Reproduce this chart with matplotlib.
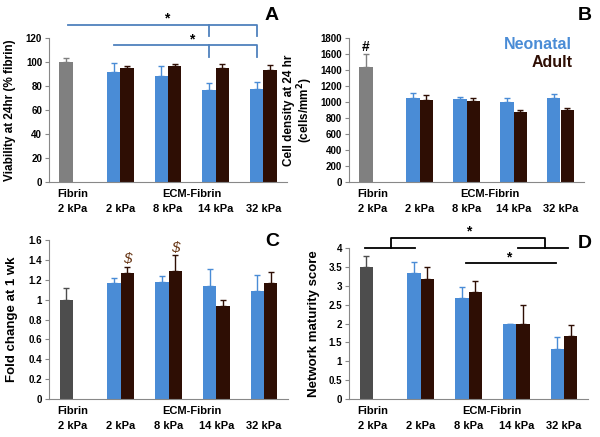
import numpy as np
import matplotlib
matplotlib.use("Agg")
import matplotlib.pyplot as plt
from matplotlib.ticker import FuncFormatter

plt.rcParams['font.family'] = ['Liberation Sans', 'DejaVu Sans']
plt.rcParams['font.weight'] = 'bold'

kpa_labels = ['2 kPa', '2 kPa', '8 kPa', '14 kPa', '32 kPa']

# A: viability at 24 hr (% fibrin); first neonatal value is the fibrin control
viab_neo = [100, 91.5, 88, 77, 77.5]
viab_neo_err = [3.4, 7.7, 8.3, 5.3, 6.2]
viab_adult = [95, 96.3, 95, 93]
viab_adult_err = [1.3, 2.3, 3.6, 4.5]

# B: cell density at 24 hr
dens_neo = [1442, 1054, 1033, 1000, 1046]
dens_neo_err = [154, 54, 25, 50, 58]
dens_adult = [1025, 1012, 871, 896]
dens_adult_err = [63, 34, 29, 25]

# C: fold change at 1 wk
fold_neo = [1.0, 1.165, 1.176, 1.14, 1.09]
fold_neo_err = [0.12, 0.055, 0.064, 0.17, 0.16]
fold_adult = [1.27, 1.29, 0.94, 1.17]
fold_adult_err = [0.06, 0.16, 0.06, 0.11]

# D: network maturity score
net_neo = [3.5, 3.33, 2.67, 2.0, 1.33]
net_neo_err = [0.29, 0.3, 0.3, 0.0, 0.3]
net_adult = [3.17, 2.83, 2.0, 1.67]
net_adult_err = [0.32, 0.3, 0.5, 0.3]

BLUE = '#4A8CD6'
BROWN = '#2E0E04'
SPINE = '#888888'
W = 0.28


def panel(ax, neo, neo_err, adult, adult_err, fib_color, ymax, step):
    x = np.arange(len(kpa_labels))
    cols = [fib_color] + [BLUE] * (len(neo) - 1)
    ax.bar(x - W / 2, neo, W, color=cols, zorder=2)
    ax.bar(x[1:] + W / 2, adult, W, color=BROWN, zorder=2)
    for xi, v, e, c in zip(x - W / 2, neo, neo_err, cols):
        ax.errorbar(xi, v, yerr=[[0], [e]], color=c, capsize=2, lw=1, capthick=1, zorder=3)
    for xi, v, e in zip(x[1:] + W / 2, adult, adult_err):
        ax.errorbar(xi, v, yerr=[[0], [e]], color=BROWN, capsize=2, lw=1, capthick=1, zorder=3)
    ax.set_xlim(-0.5, len(kpa_labels) - 0.5)
    ax.set_ylim(0, ymax)
    ax.set_yticks(np.arange(0, ymax + step / 2, step))
    ax.yaxis.set_major_formatter(FuncFormatter(lambda v, p: '%g' % round(v, 2)))
    ax.set_xticks(x)
    ax.set_xticklabels(kpa_labels, fontsize=8, fontweight='bold')
    ax.tick_params(axis='x', length=0, pad=16)
    ax.tick_params(axis='y', length=3, width=0.8, color=SPINE, labelsize=7, pad=2)
    for s in ['top', 'right']:
        ax.spines[s].set_visible(False)
    for s in ['left', 'bottom']:
        ax.spines[s].set_color(SPINE)
        ax.spines[s].set_linewidth(0.8)
    for xx, txt in [(0, 'Fibrin'), (2.5, 'ECM-Fibrin')]:
        ax.annotate(txt, xy=(xx, 0), xycoords=('data', 'axes fraction'),
                    xytext=(0, -5), textcoords='offset points',
                    ha='center', va='top', fontsize=8, fontweight='bold')


fig = plt.figure(figsize=(6, 4.37), dpi=100)
axA = fig.add_axes([49 / 600, 1 - 182 / 437, 238 / 600, 144 / 437])
axB = fig.add_axes([349 / 600, 1 - 182 / 437, 235 / 600, 144 / 437])
axC = fig.add_axes([49 / 600, 1 - 399 / 437, 239 / 600, 159 / 437])
axD = fig.add_axes([349 / 600, 1 - 399 / 437, 239 / 600, 151 / 437])

panel(axA, viab_neo, viab_neo_err, viab_adult, viab_adult_err, '#808080', 120, 20)
panel(axB, dens_neo, dens_neo_err, dens_adult, dens_adult_err, '#808080', 1800, 200)
panel(axC, fold_neo, fold_neo_err, fold_adult, fold_adult_err, '#4D4D4D', 1.6, 0.2)
panel(axD, net_neo, net_neo_err, net_adult, net_adult_err, '#4D4D4D', 4, 0.5)

axA.set_ylabel('Viability at 24hr (% fibrin)', fontsize=8.5, fontweight='bold')
axA.yaxis.set_label_coords(-0.14, 0.5)
axB.set_ylabel('Cell density at 24 hr\n(cells/mm$^\\mathbf{2}$)', fontsize=8.5, fontweight='bold', linespacing=1.05)
axB.yaxis.set_label_coords(-0.145, 0.5)
axC.set_ylabel('Fold change at 1 wk', fontsize=9.5, fontweight='bold')
axC.yaxis.set_label_coords(-0.13, 0.5)
axD.set_ylabel('Network maturity score', fontsize=9.5, fontweight='bold')
axD.yaxis.set_label_coords(-0.12, 0.5)

# panel letters
for lab, xx, yy in [('A', 272, 15), ('B', 585, 15), ('C', 272, 242), ('D', 585, 243)]:
    fig.text(xx / 600, 1 - yy / 437, lab, fontsize=14, fontweight='bold', ha='center', va='center')

# legend in B
axB.text(0.95, 0.955, 'Neonatal', transform=axB.transAxes, color=BLUE, fontsize=11.5,
         fontweight='bold', ha='right', va='center')
axB.text(0.95, 0.83, 'Adult', transform=axB.transAxes, color=BROWN, fontsize=11.5,
         fontweight='bold', ha='right', va='center')
axB.text(-W / 2, 1690, '#', ha='center', va='center', fontsize=10, fontweight='bold')

# significance brackets in A
SIG = '#4F81BD'
kw = dict(color=SIG, lw=1.3, clip_on=False)
axA.plot([-0.1, 3.86, 3.86], [130.8, 130.8, 121.5], **kw)
axA.plot([2.86, 2.86], [130.8, 121.5], **kw)
axA.plot([0.86, 3.86, 3.86], [114.2, 114.2, 104.5], **kw)
axA.plot([2.86, 2.86], [114.2, 104.5], **kw)
axA.text(1.98, 136, '*', ha='center', va='center', fontsize=10, clip_on=False)
axA.text(2.5, 119, '*', ha='center', va='center', fontsize=10, clip_on=False)

# $ marks in C
for xi, yy in [(1 + W / 2, 1.41), (2 + W / 2, 1.52)]:
    axC.text(xi, yy, '$', color='#6B3A1A', ha='center', va='center', fontsize=11,
             fontstyle='italic', fontweight='normal')

# significance brackets in D
kw = dict(color='black', lw=1.3, clip_on=False)
axD.plot([-0.17, 0.88], [4.0, 4.0], **kw)
axD.plot([3.04, 4.08], [4.0, 4.0], **kw)
axD.plot([0.38, 0.38, 3.6, 3.6], [4.0, 4.27, 4.27, 4.0], **kw)
axD.text(2.0, 4.45, '*', ha='center', va='center', fontsize=10, clip_on=False)
axD.plot([1.95, 3.83], [3.6, 3.6], **kw)
axD.text(2.85, 3.75, '*', ha='center', va='center', fontsize=10, clip_on=False)

fig.savefig('out.png', dpi=100)
